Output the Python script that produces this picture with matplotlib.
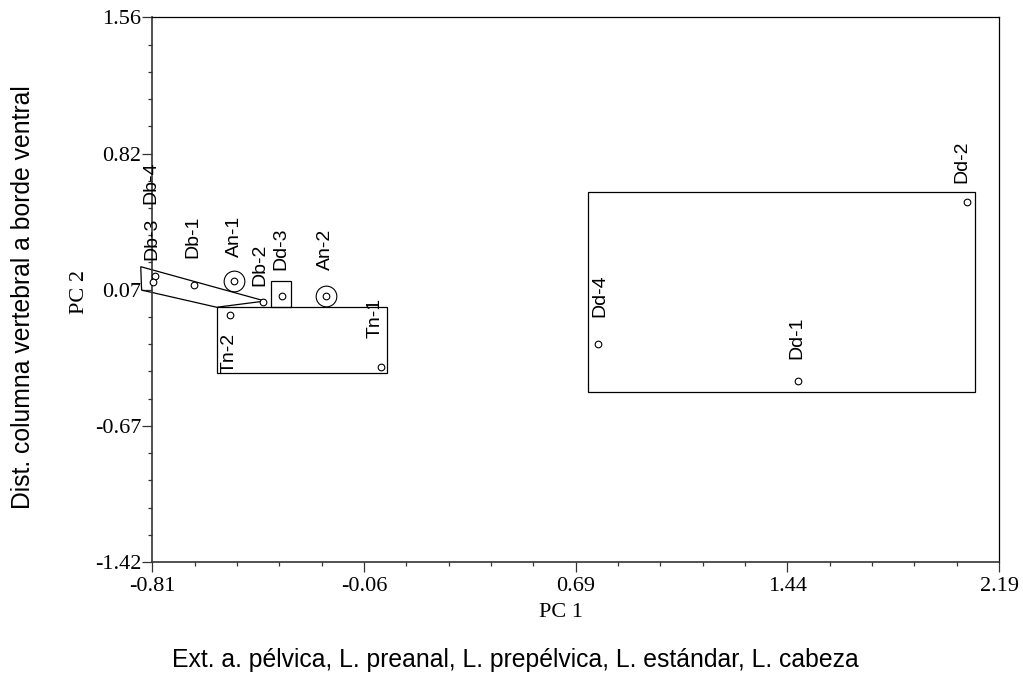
import matplotlib
matplotlib.use('Agg')
import matplotlib.pyplot as plt
from matplotlib.patches import Rectangle, Polygon
from matplotlib.ticker import AutoMinorLocator

# 样本名称
names = ['An-1', 'An-2', 'Db-1', 'Db-2', 'Db-3', 'Db-4',
         'Dd-1', 'Dd-2', 'Dd-3', 'Dd-4', 'Tn-1', 'Tn-2']
# 主成分得分
pc1 = [-0.522, -0.196, -0.662, -0.419, -0.800, -0.806,
       1.479, 2.075, -0.351, 0.768, -0.001, -0.536]
pc2 = [0.118, 0.036, 0.096, 0.000, 0.145, 0.114,
       -0.427, 0.550, 0.036, -0.227, -0.355, -0.068]

# Db 组的包络线
db_outline_x = [-0.851, -0.411, -0.582, -0.848]
db_outline_y = [0.196, 0.008, -0.026, 0.068]

# 坐标轴刻度
x_ticks = [-0.81, -0.06, 0.69, 1.44, 2.19]
x_tick_labels = ['-0.81', '-0.06', '0.69', '1.44', '2.19']
y_ticks = [-1.42, -0.675, 0.07, 0.815, 1.56]
y_tick_labels = ['-1.42', '-0.67', '0.07', '0.82', '1.56']

# 画框的分组, 以及每个框的留白(左, 右, 下, 上)
boxes = [
    (['Tn-1', 'Tn-2'], (0.046, 0.022, 0.029, 0.042)),
    (['Dd-1', 'Dd-2', 'Dd-4'], (0.036, 0.029, 0.065, 0.053)),
    (['Dd-3'], (0.038, 0.031, 0.059, 0.082)),
]
# 外面加圆圈的样本
ringed = ['An-1', 'An-2']

# 标签偏移/像素
label_offsets = {
    'An-1': (0.5, 24), 'An-2': (-0.5, 26), 'Db-1': (-1.5, 27),
    'Db-2': (-3, 16), 'Db-3': (-3.7, 16), 'Db-4': (-2.3, 78),
    'Dd-1': (-1.6, 22), 'Dd-2': (-4.8, 19), 'Dd-3': (-1, 26),
    'Dd-4': (2.5, 27), 'Tn-1': (-5.5, 29), 'Tn-2': (-0.5, -58),
}

serif = 'Liberation Serif'
sans = 'Liberation Sans'

fig = plt.figure(figsize=(10.23, 6.84), dpi=100)
ax = fig.add_axes([0.1489, 0.1784, 0.8277, 0.7961])

ax.set_xlim(-0.81, 2.19)
ax.set_ylim(-1.42, 1.56)

# 分组框
for group, (pl, pr, pb, pt) in boxes:
    gx = [pc1[names.index(n)] for n in group]
    gy = [pc2[names.index(n)] for n in group]
    x0 = min(gx) - pl
    y0 = min(gy) - pb
    w = max(gx) + pr - x0
    h = max(gy) + pt - y0
    ax.add_patch(Rectangle((x0, y0), w, h, fill=False, edgecolor='black',
                           linewidth=0.9, zorder=2))

ax.add_patch(Polygon(list(zip(db_outline_x, db_outline_y)), closed=True,
                     fill=False, edgecolor='black', linewidth=0.9,
                     clip_on=False, zorder=2))

# 样本点
ax.plot(pc1, pc2, 'o', markersize=4.8, markerfacecolor='white',
        markeredgecolor='black', markeredgewidth=0.8, clip_on=False, zorder=3)
rx = [pc1[names.index(n)] for n in ringed]
ry = [pc2[names.index(n)] for n in ringed]
ax.plot(rx, ry, 'o', markersize=14.9, markerfacecolor='none',
        markeredgecolor='black', markeredgewidth=0.8, zorder=3)

# 标签竖着写
for n, x, y in zip(names, pc1, pc2):
    dx, dy = label_offsets[n]
    ax.annotate(n, (x, y), xytext=(dx, dy), textcoords='offset pixels',
                rotation=90, ha='center', va='bottom', fontsize=14,
                family=sans, color='black', annotation_clip=False)

# 刻度
ax.set_xticks(x_ticks)
ax.set_xticklabels(x_tick_labels)
ax.set_yticks(y_ticks)
ax.set_yticklabels(y_tick_labels)
ax.xaxis.set_minor_locator(AutoMinorLocator(5))
ax.yaxis.set_minor_locator(AutoMinorLocator(5))
ax.tick_params(which='major', direction='out', length=7, width=0.9,
               color='#333333', pad=4, labelsize=16)
ax.tick_params(which='minor', direction='out', length=3, width=0.9,
               color='#333333')
ax.tick_params(axis='y', which='major', pad=1)
for lab in ax.get_xticklabels() + ax.get_yticklabels():
    lab.set_family(serif)

for side in ['left', 'bottom']:
    ax.spines[side].set_color('#333333')
    ax.spines[side].set_linewidth(1.2)
for side in ['top', 'right']:
    ax.spines[side].set_color('black')
    ax.spines[side].set_linewidth(0.9)

# 轴标题
fig.text(0.548, 0.104, 'PC 1', family=serif, fontsize=16,
         ha='center', va='center')
fig.text(0.078, 0.573, 'PC 2', family=serif, fontsize=16,
         rotation=90, ha='center', va='center')
fig.text(0.0225, 0.566, 'Dist. columna vertebral a borde ventral',
         family=sans, fontsize=17.8, rotation=90, ha='center', va='center')
fig.text(0.504, 0.035,
         'Ext. a. pélvica, L. preanal, L. prepélvica, L. estándar, L. cabeza',
         family=sans, fontsize=17.8, ha='center', va='center')

fig.savefig('out.png', dpi=100)
